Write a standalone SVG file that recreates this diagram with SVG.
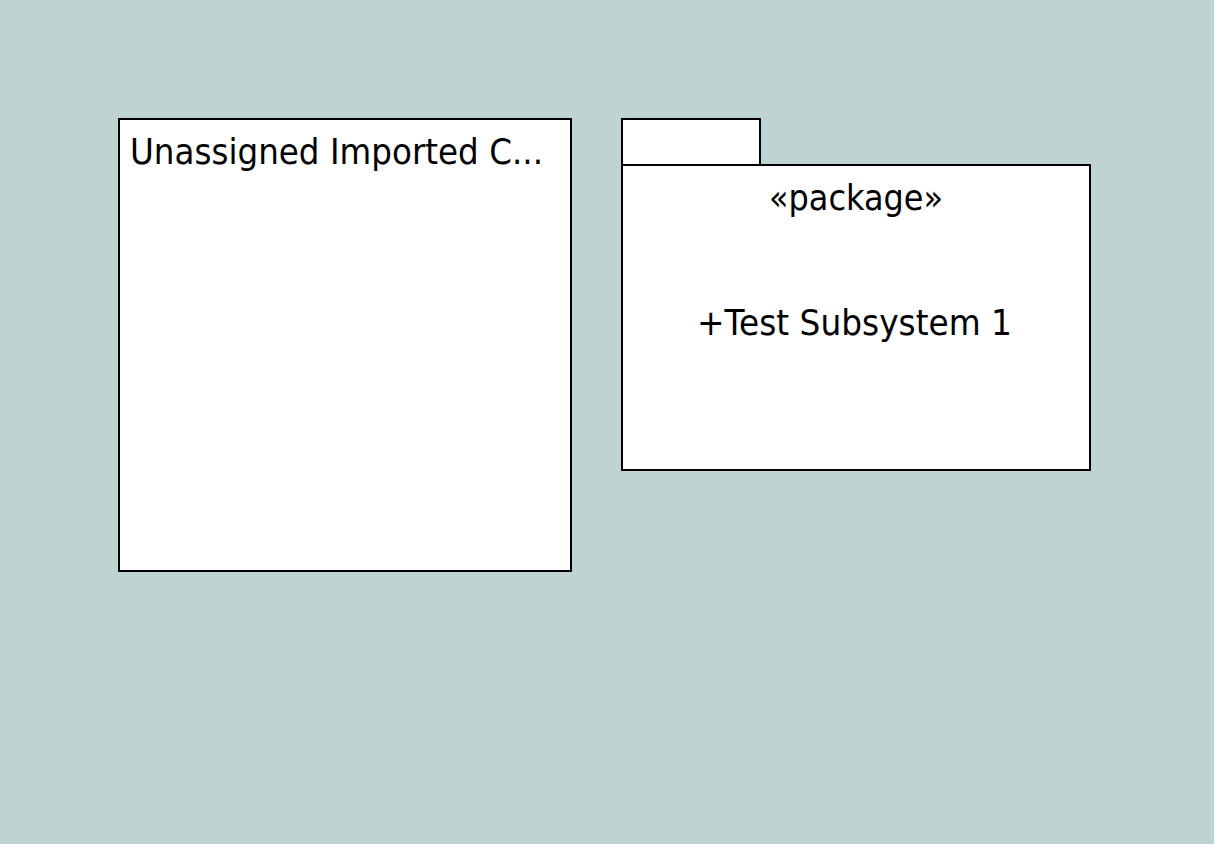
<svg xmlns="http://www.w3.org/2000/svg" width="1231" height="861" viewBox="0 0 1231 861">
<style>
.box{fill:#fff;stroke:#000;stroke-width:2}
.t{font-family:"DejaVu Sans","Liberation Sans",sans-serif;font-size:35px;fill:#000}
</style>
<rect x="0" y="0" width="1231" height="861" fill="#fff"/>
<rect x="0" y="0" width="1214" height="844" fill="#BFD3D2"/>
<g id="unassigned">
<rect class="box" x="119" y="119" width="452" height="452"/>
<text class="t" x="130" y="164" textLength="413" lengthAdjust="spacingAndGlyphs">Unassigned Imported C...</text>
</g>
<g id="package">
<rect class="box" x="622" y="119" width="138" height="46"/>
<rect class="box" x="622" y="165" width="468" height="305"/>
<text class="t" x="856" y="210" text-anchor="middle" textLength="174" lengthAdjust="spacingAndGlyphs">«package»</text>
<text class="t" x="854.5" y="335" text-anchor="middle" textLength="315" lengthAdjust="spacingAndGlyphs">+Test Subsystem 1</text>
</g>
<g id="connectors"></g>
</svg>
